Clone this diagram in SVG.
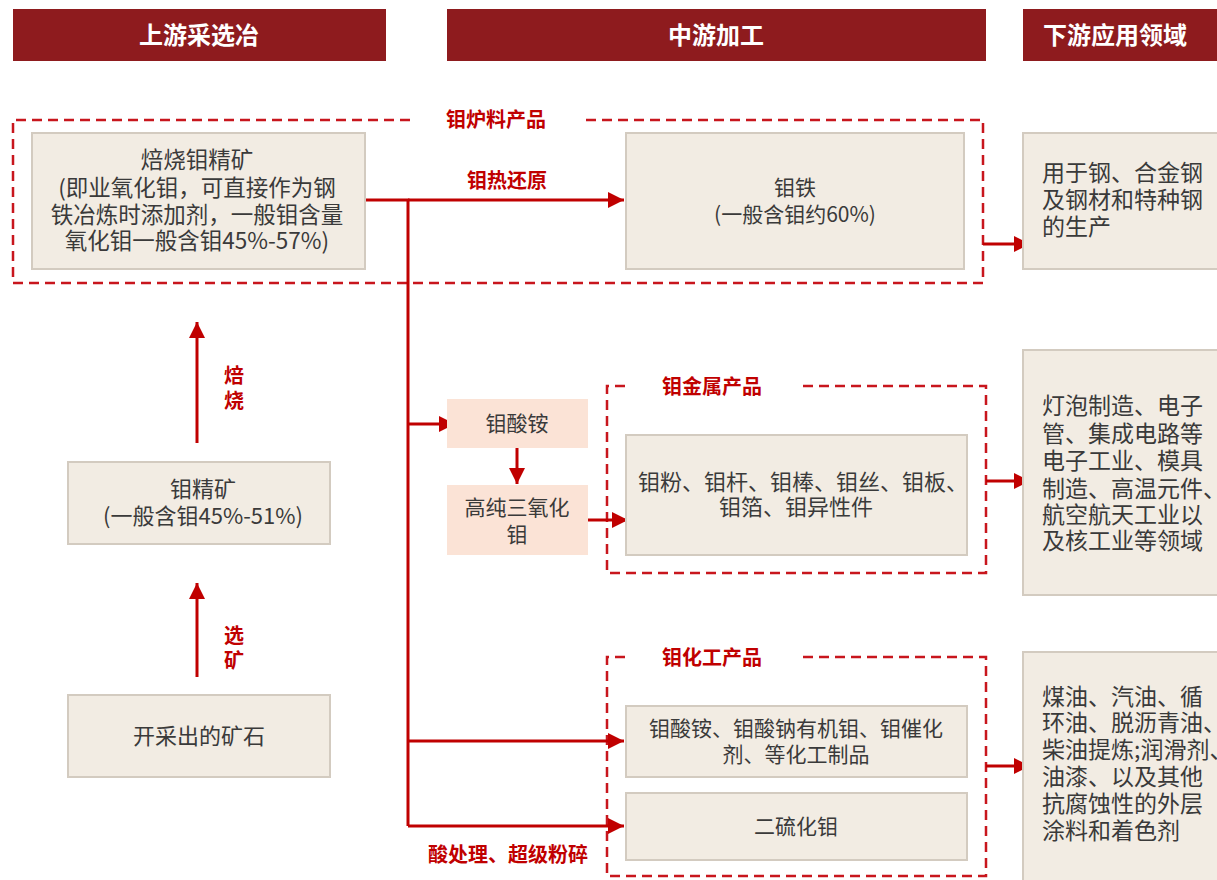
<svg xmlns="http://www.w3.org/2000/svg" width="1217" height="880" viewBox="0 0 1217 880">
<defs>
<marker id="ah" markerUnits="userSpaceOnUse" markerWidth="18" markerHeight="16" refX="16" refY="8" orient="auto">
<path d="M0,0 L16,8 L0,16 Z" fill="#c00000"/>
</marker>
<style>
.hdr{fill:#8e1b1e}
.ht{fill:#fff;font-family:"Noto Sans CJK SC",sans-serif;font-size:24px;font-weight:bold;text-anchor:middle}
.nd{fill:#f2ece3;stroke:#d3cbc0;stroke-width:2}
.pk{fill:#fbe3d6}
.t{fill:#3a3a3a;font-family:"Noto Sans CJK SC",sans-serif;font-size:21px;text-anchor:middle}
.t22{font-size:22px}
.t23{font-size:22.5px}
.tl{fill:#3a3a3a;font-family:"Noto Sans CJK SC",sans-serif;font-size:23px}
.rl{fill:#c00000;font-family:"Noto Sans CJK SC",sans-serif;font-size:20px;font-weight:bold;text-anchor:middle}
.db{fill:none;stroke:#c8161d;stroke-width:2.5;stroke-dasharray:10 6}
.ar{fill:none;stroke:#c00000;stroke-width:3;marker-end:url(#ah)}
.ln{fill:none;stroke:#c00000;stroke-width:3}
</style>
</defs>
<rect width="1217" height="880" fill="#ffffff"/>

<g id="headers">
<rect class="hdr" x="13" y="9" width="373" height="52"/>
<text class="ht" x="199" y="44">上游采选冶</text>
<rect class="hdr" x="447" y="9" width="539" height="52"/>
<text class="ht" x="716" y="44">中游加工</text>
<rect class="hdr" x="1023" y="9" width="194" height="52"/>
<text class="ht" x="1115" y="44">下游应用领域</text>
</g>

<g id="groups">
<path class="db" d="M410 120 H13 V283 H983 V120 H580"/>
<text class="rl" x="496" y="127">钼炉料产品</text>
<path class="db" d="M625 386 H607 V573 H986 V386 H800"/>
<text class="rl" x="712" y="394">钼金属产品</text>
<path class="db" d="M625 657 H607 V876 H986 V657 H800"/>
<text class="rl" x="712" y="665">钼化工产品</text>
</g>

<g id="connectors">
<path class="ln" d="M365 200 H408 V826"/>
<path class="ar" d="M408 200 H624"/>
<path class="ar" d="M408 424 H455"/>
<path class="ar" d="M517 448 V484"/>
<path class="ar" d="M588 520 H628"/>
<path class="ar" d="M408 741 H624"/>
<path class="ar" d="M408 826 H624"/>
<path class="ar" d="M983 244 H1030"/>
<path class="ar" d="M986 481 H1030"/>
<path class="ar" d="M986 766 H1030"/>
<path class="ar" d="M197 443 V322"/>
<path class="ar" d="M197 677 V583"/>
<text class="rl" x="507" y="188">钼热还原</text>
<text class="rl" x="508" y="862">酸处理、超级粉碎</text>
<text class="rl" x="234" y="383">焙</text>
<text class="rl" x="234" y="408">烧</text>
<text class="rl" x="234" y="643">选</text>
<text class="rl" x="234" y="668">矿</text>
</g>

<g id="n-roast">
<rect class="nd" x="32" y="133" width="333" height="136"/>
<text class="t t23" x="197" y="168">焙烧钼精矿</text>
<text class="t t23" x="197" y="196">(即业氧化钼，可直接作为钢</text>
<text class="t t23" x="197" y="223">铁冶炼时添加剂，一般钼含量</text>
<text class="t t23" x="197" y="249">氧化钼一般含钼45%-57%)</text>
</g>

<g id="n-femo">
<rect class="nd" x="626" y="133" width="338" height="136"/>
<text class="t" x="795" y="195">钼铁</text>
<text class="t" x="795" y="222">(一般含钼约60%)</text>
</g>

<g id="n-steel">
<rect class="nd" x="1023" y="133" width="200" height="136"/>
<text class="tl" x="1042" y="181">用于钢、合金钢</text>
<text class="tl" x="1042" y="208">及钢材和特种钢</text>
<text class="tl" x="1042" y="235">的生产</text>
</g>

<g id="n-amm">
<rect class="pk" x="447" y="399" width="141" height="49"/>
<text class="t" x="517" y="431">钼酸铵</text>
</g>

<g id="n-moo3">
<rect class="pk" x="447" y="485" width="141" height="70"/>
<text class="t" x="517" y="515">高纯三氧化</text>
<text class="t" x="517" y="542">钼</text>
</g>

<g id="n-metal">
<rect class="nd" x="626" y="435" width="341" height="120"/>
<text class="t t22" x="803" y="490">钼粉、钼杆、钼棒、钼丝、钼板、</text>
<text class="t t22" x="796" y="515">钼箔、钼异性件</text>
</g>

<g id="n-elec">
<rect class="nd" x="1023" y="350" width="200" height="245"/>
<text class="tl" x="1042" y="414">灯泡制造、电子</text>
<text class="tl" x="1042" y="442">管、集成电路等</text>
<text class="tl" x="1042" y="469">电子工业、模具</text>
<text class="tl" x="1042" y="497">制造、高温元件、</text>
<text class="tl" x="1042" y="523">航空航天工业以</text>
<text class="tl" x="1042" y="549">及核工业等领域</text>
</g>

<g id="n-chem">
<rect class="nd" x="626" y="706" width="341" height="71"/>
<text class="t" x="796" y="736">钼酸铵、钼酸钠有机钼、钼催化</text>
<text class="t" x="796" y="762">剂、等化工制品</text>
</g>

<g id="n-mos2">
<rect class="nd" x="626" y="793" width="341" height="67"/>
<text class="t" x="796" y="834">二硫化钼</text>
</g>

<g id="n-oil">
<rect class="nd" x="1023" y="652" width="200" height="240"/>
<text class="tl" x="1042" y="705">煤油、汽油、循</text>
<text class="tl" x="1042" y="731">环油、脱沥青油、</text>
<text class="tl" x="1042" y="758">柴油提炼;润滑剂、</text>
<text class="tl" x="1042" y="785">油漆、以及其他</text>
<text class="tl" x="1042" y="812">抗腐蚀性的外层</text>
<text class="tl" x="1042" y="839">涂料和着色剂</text>
</g>

<g id="n-conc">
<rect class="nd" x="68" y="462" width="262" height="82"/>
<text class="t t22" x="203" y="497">钼精矿</text>
<text class="t t22" x="203" y="524">(一般含钼45%-51%)</text>
</g>

<g id="n-ore">
<rect class="nd" x="68" y="695" width="262" height="82"/>
<text class="t t22" x="199" y="744">开采出的矿石</text>
</g>
</svg>
